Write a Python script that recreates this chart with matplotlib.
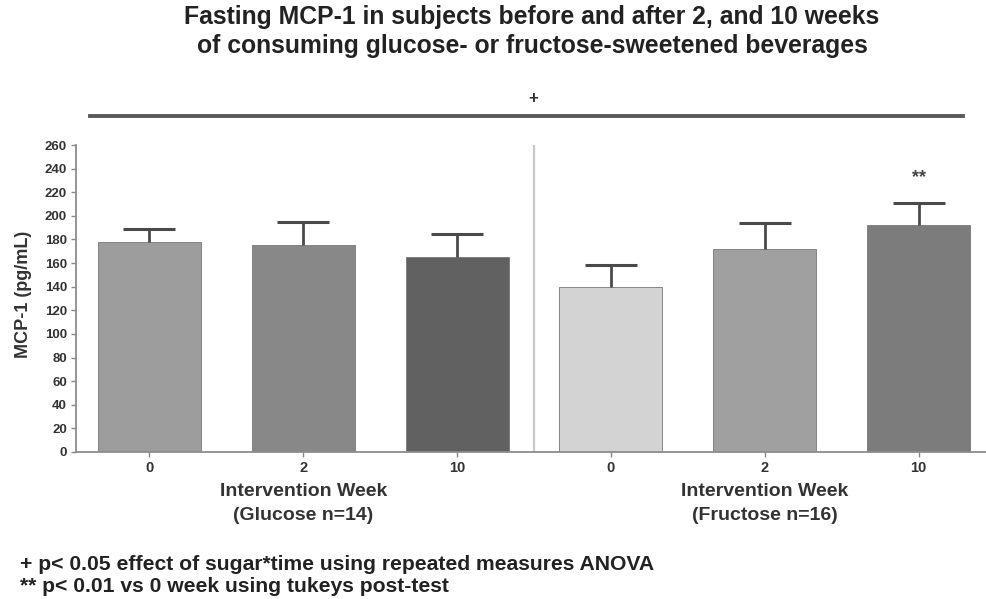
import matplotlib
matplotlib.use("Agg")
import matplotlib.pyplot as plt
from matplotlib.transforms import blended_transform_factory

plt.rcParams['font.family'] = ['Liberation Sans', 'DejaVu Sans']

# Data
weeks = ["0", "2", "10", "0", "2", "10"]
glucose_mean = [178, 175, 165]
glucose_sem = [11, 20, 20]
fructose_mean = [140, 172, 192]
fructose_sem = [18, 22, 19]
bar_colors = ["#9d9d9d", "#888888", "#616161", "#d3d3d3", "#a0a0a0", "#7c7c7c"]
yticks = list(range(0, 261, 20))

means = glucose_mean + fructose_mean
sems = glucose_sem + fructose_sem
pos = list(range(len(means)))

W, H = 987, 599
fig = plt.figure(figsize=(W / 100, H / 100), dpi=100)
ax = fig.add_axes([76 / W, 1 - 452 / H, 1 - 76 / W, (452 - 145) / H])

ax.bar(pos, means, width=0.67, color=bar_colors, edgecolor="#777777",
       linewidth=0.6, zorder=2)
_, caps, _ = ax.errorbar(pos, means, yerr=[[0] * len(sems), sems], fmt="none",
                         ecolor="#4a4a4a", elinewidth=2, capsize=19,
                         capthick=2.2, zorder=3)
caps[0].set_visible(False)  # upper-only SEM bars

ax.set_xlim(-0.477, 5.445)
ax.set_ylim(0, 260)
ax.set_yticks(yticks)
ax.set_yticklabels([str(t) for t in yticks], fontsize=9.5, fontweight="bold",
                   color="#333333")
ax.set_xticks(pos)
ax.set_xticklabels(weeks, fontsize=10.5, fontweight="bold", color="#333333")
ax.tick_params(axis="both", length=3.5, width=1, color="#888888", pad=3)

for s in ["top", "right"]:
    ax.spines[s].set_visible(False)
for s in ["left", "bottom"]:
    ax.spines[s].set_color("#8c8c8c")
    ax.spines[s].set_linewidth(1.3)

# divider between the two sugar groups
ax.axvline(2.5, ymin=0, ymax=1, color="#c8c8c8", lw=1.6, zorder=1)

fig.text(24 / W, 1 - 294 / H, "MCP-1 (pg/mL)", rotation=90, ha="center",
         va="center", fontsize=13, fontweight="bold", color="#333333")

# group labels
tr = blended_transform_factory(ax.transData, fig.transFigure)
for x, grp in [(1, "(Glucose n=14)"), (4, "(Fructose n=16)")]:
    ax.text(x, 1 - 492 / H, "Intervention Week", transform=tr, ha="center",
            va="center", fontsize=14, fontweight="bold", color="#333333")
    ax.text(x, 1 - 515 / H, grp, transform=tr, ha="center",
            va="center", fontsize=14, fontweight="bold", color="#333333")

# significance marks
ax.text(5, 1 - 178 / H, "**", transform=tr, ha="center", va="center",
        fontsize=13, fontweight="bold", color="#444444")

# interaction bracket across both groups
fig.add_artist(plt.Line2D([90 / W, 963 / W], [1 - 116 / H, 1 - 116 / H],
                          color="#5a5a5a", lw=2.8))
fig.text(533 / W, 1 - 98 / H, "+", ha="center", va="center", fontsize=12,
         fontweight="bold", color="#333333")

# title
fig.text(532 / W, 1 - 17 / H,
         "Fasting MCP-1 in subjects before and after 2, and 10 weeks",
         ha="center", va="center", fontsize=17.8, fontweight="bold",
         color="#222222")
fig.text(532 / W, 1 - 46 / H,
         "of consuming glucose- or fructose-sweetened beverages",
         ha="center", va="center", fontsize=17.8, fontweight="bold",
         color="#222222")

# footnotes
fig.text(20 / W, 1 - 564 / H,
         "+ p< 0.05 effect of sugar*time using repeated measures ANOVA",
         ha="left", va="center", fontsize=15.2, fontweight="bold",
         color="#222222")
fig.text(20 / W, 1 - 587 / H,
         "** p< 0.01 vs 0 week using tukeys post-test",
         ha="left", va="center", fontsize=15.2, fontweight="bold",
         color="#222222")

fig.savefig("out.png", dpi=100, facecolor="white")
